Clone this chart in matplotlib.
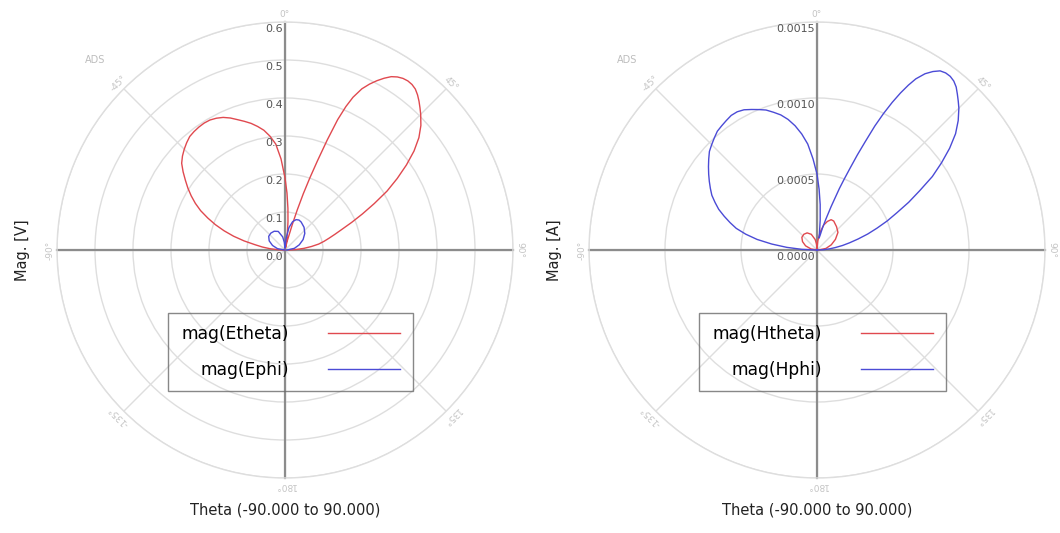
# Far-field magnitude polar plots (E and H), two panels side by side
import numpy as np
import matplotlib.pyplot as plt
from matplotlib.transforms import offset_copy

# ---- data (theta in degrees, magnitude) ----
theta_e = [-90, -87.5, -85, -82.5, -80, -77.5, -75, -72.5, -70, -67.5, -65, -62.5,
           -60, -57.5, -55, -52.5, -50, -47.5, -45, -42.5, -40, -37.5, -35, -32.5,
           -30, -27.5, -25, -22.5, -20, -17.5, -15, -12.5, -10, -7.5, -5, -2.5,
           0, 2, 4, 6, 8, 10, 12, 14, 16, 17, 18, 19, 20, 21, 22, 23, 24, 25.5,
           27, 28.5, 30, 31.5, 33, 34.5, 36, 37.5, 39, 40.5, 42, 43.5, 45, 47.5,
           50, 52.5, 55, 57.5, 60, 62.5, 65, 67.5, 70, 72.5, 75, 77.5, 80, 82.5,
           85, 87.5, 90]
etheta = [0.0, 0.02, 0.04, 0.06, 0.08, 0.11, 0.14, 0.168, 0.195, 0.22, 0.245,
          0.266, 0.285, 0.303, 0.32, 0.338, 0.355, 0.366, 0.375, 0.383, 0.39,
          0.393, 0.395, 0.396, 0.395, 0.391, 0.385, 0.376, 0.365, 0.355, 0.345,
          0.333, 0.32, 0.302, 0.28, 0.24,
          0.19, 0.15, 0.11, 0.075, 0.045, 0.02, 0.006, 0.025, 0.07, 0.11, 0.155,
          0.2, 0.25, 0.31, 0.37, 0.41, 0.44, 0.47, 0.49, 0.507, 0.522, 0.535,
          0.543, 0.548, 0.55, 0.549, 0.545, 0.537, 0.527, 0.516, 0.505, 0.485,
          0.46, 0.428, 0.39, 0.35, 0.31, 0.265, 0.225, 0.19, 0.16, 0.138, 0.12,
          0.105, 0.09, 0.07, 0.05, 0.03, 0.01]

theta_ephi = [-90, -80, -70, -60, -50, -40, -30, -20, -10, -5, 0, 5, 10, 15, 20,
              25, 30, 40, 50, 60, 70, 80, 90]
ephi = [0.0, 0.02, 0.035, 0.048, 0.056, 0.058, 0.057, 0.052, 0.035, 0.02, 0.005,
        0.03, 0.06, 0.077, 0.085, 0.087, 0.085, 0.078, 0.068, 0.055, 0.04, 0.025,
        0.005]

theta_h = [-90, -87.5, -85, -82.5, -80, -77.5, -75, -72.5, -70, -67.5, -65, -62.5,
           -60, -57.5, -55, -52.5, -50, -47.5, -45, -42.5, -40, -37.5, -35, -32.5,
           -30, -27.5, -25, -22.5, -20, -17.5, -15, -12.5, -10, -7.5, -5, -2.5,
           0, 2, 4, 6, 8, 10, 12, 14, 16, 18, 20, 21, 22, 23, 24, 25, 26, 27, 28,
           29, 30, 31.5, 33, 34.5, 36, 37.5, 39, 40.5, 42, 43.5, 45, 47.5, 50,
           52.5, 55, 57.5, 60, 62.5, 65, 67.5, 70, 72.5, 75, 77.5, 80, 82.5, 85,
           87.5, 90]
hphi = [0.0, 0.0001, 0.0002, 0.0003, 0.0004, 0.00048, 0.00055, 0.0006, 0.00065,
        0.0007, 0.00074, 0.00078, 0.00081, 0.00084, 0.00087, 0.0009, 0.00093,
        0.00096, 0.00098, 0.001, 0.00102, 0.00103, 0.00104, 0.00105, 0.00105,
        0.00104, 0.00102, 0.001, 0.00098, 0.00095, 0.00092, 0.00088, 0.00083,
        0.00077, 0.0007, 0.0006,
        0.0005, 0.0004, 0.0003, 0.0002, 0.00012, 0.00008, 0.0001, 0.00015,
        0.00021, 0.0003, 0.00043, 0.0005, 0.00058, 0.00068, 0.00078, 0.0009,
        0.001, 0.00109, 0.00117, 0.00124, 0.0013, 0.00136, 0.0014, 0.00143,
        0.00144, 0.00144, 0.00143, 0.00141, 0.00138, 0.00135, 0.00132, 0.00126,
        0.00119, 0.0011, 0.001, 0.0009, 0.00078, 0.00068, 0.00058, 0.0005,
        0.00042, 0.00035, 0.00028, 0.00022, 0.00017, 0.00012, 0.00008, 0.00004,
        0.0]

theta_htheta = [-90, -80, -70, -60, -50, -40, -30, -20, -10, -5, 0, 5, 10, 15, 20,
                25, 30, 40, 50, 60, 70, 80, 90]
htheta = [0.0, 0.00004, 0.00008, 0.00011, 0.00013, 0.000135, 0.00013, 0.00011,
          0.00007, 0.00004, 0.00001, 0.00006, 0.00012, 0.00017, 0.0002, 0.00022,
          0.00022, 0.0002, 0.00018, 0.00014, 0.0001, 0.00006, 0.00001]

e_ticks = [0.0, 0.1, 0.2, 0.3, 0.4, 0.5, 0.6]
e_ticklabels = ['0.0', '0.1', '0.2', '0.3', '0.4', '0.5', '0.6']
h_ticks = [0.0, 0.0005, 0.0010, 0.0015]
h_ticklabels = ['0.0000', '0.0005', '0.0010', '0.0015']
ang_ticks = [0, 45, 90, 135, 180, -135, -90, -45]

RED = '#e0494f'
BLUE = '#4b4bd6'
GRID = '#dedede'
AXIS = '#8c8c8c'


def polar_panel(fig, rect, rmax, ticks, ticklabels, series, ylabel, xlabel):
    ax = fig.add_axes(rect, projection='polar')
    ax.set_theta_zero_location('N')
    ax.set_theta_direction(-1)
    ax.set_ylim(0, rmax)
    ax.set_yticks(ticks[1:])
    ax.set_xticks(np.radians([a % 360 for a in ang_ticks]))
    ax.set_xticklabels([])
    ax.set_yticklabels([])
    ax.grid(True, color=GRID, lw=1.0)
    ax.spines['polar'].set_color(GRID)
    ax.spines['polar'].set_linewidth(1.0)
    ax.tick_params(length=0)

    # dark cross through the centre
    for a in (0, 90, 180, 270):
        ax.plot([np.radians(a)] * 2, [0, rmax], color=AXIS, lw=1.6,
                zorder=2, clip_on=False)

    # radial labels along the 0 deg line
    trans = offset_copy(ax.transData, fig=fig, x=-2, y=-2, units='dots')
    for v, s in zip(ticks, ticklabels):
        ax.text(0, v, s, transform=trans, ha='right', va='top', fontsize=8,
                color='#555555', zorder=4)

    # angle labels, tangential
    for a in ang_ticks:
        ax.text(np.radians(a), rmax * 1.012, f'{a}\u00b0', rotation=-a,
                rotation_mode='anchor', ha='center', va='bottom',
                fontsize=6.5, color='#c4c4c4', clip_on=False)

    for th, r, c, lab in series:
        ax.plot(np.radians(th), r, color=c, lw=1.0, label=lab, zorder=3)

    cx = rect[0] + rect[2] / 2
    ax.legend(loc='center', bbox_to_anchor=(cx + 5.5 / 1060, 1 - 352 / 533),
              bbox_transform=fig.transFigure, markerfirst=False,
              fancybox=False, edgecolor='#6a6a6a', facecolor='none',
              fontsize=12.3, handlelength=4.2, handletextpad=2.3,
              borderpad=0.75, labelspacing=1.0)

    fig.text(cx, 1 - 510 / 533, xlabel, ha='center', va='center',
             fontsize=10.5, color='#222222')
    fig.text(rect[0] - 35 / 1060, 1 - 250 / 533, ylabel, rotation=90,
             ha='center', va='center', fontsize=10.5, color='#222222')
    fig.text(rect[0] + 38 / 1060, 1 - 60 / 533, 'ADS', ha='center',
             va='center', fontsize=7, color='#bdbdbd')
    return ax


fig = plt.figure(figsize=(10.6, 5.33), dpi=100)

polar_panel(fig, [57 / 1060, 55 / 533, 456 / 1060, 456 / 533], 0.6,
            e_ticks, e_ticklabels,
            [(theta_e, etheta, RED, 'mag(Etheta)'),
             (theta_ephi, ephi, BLUE, 'mag(Ephi)')],
            'Mag. [V]', 'Theta (-90.000 to 90.000)')

polar_panel(fig, [589 / 1060, 55 / 533, 456 / 1060, 456 / 533], 0.0015,
            h_ticks, h_ticklabels,
            [(theta_htheta, htheta, RED, 'mag(Htheta)'),
             (theta_h, hphi, BLUE, 'mag(Hphi)')],
            'Mag. [A]', 'Theta (-90.000 to 90.000)')

fig.savefig('out.png', dpi=100)
